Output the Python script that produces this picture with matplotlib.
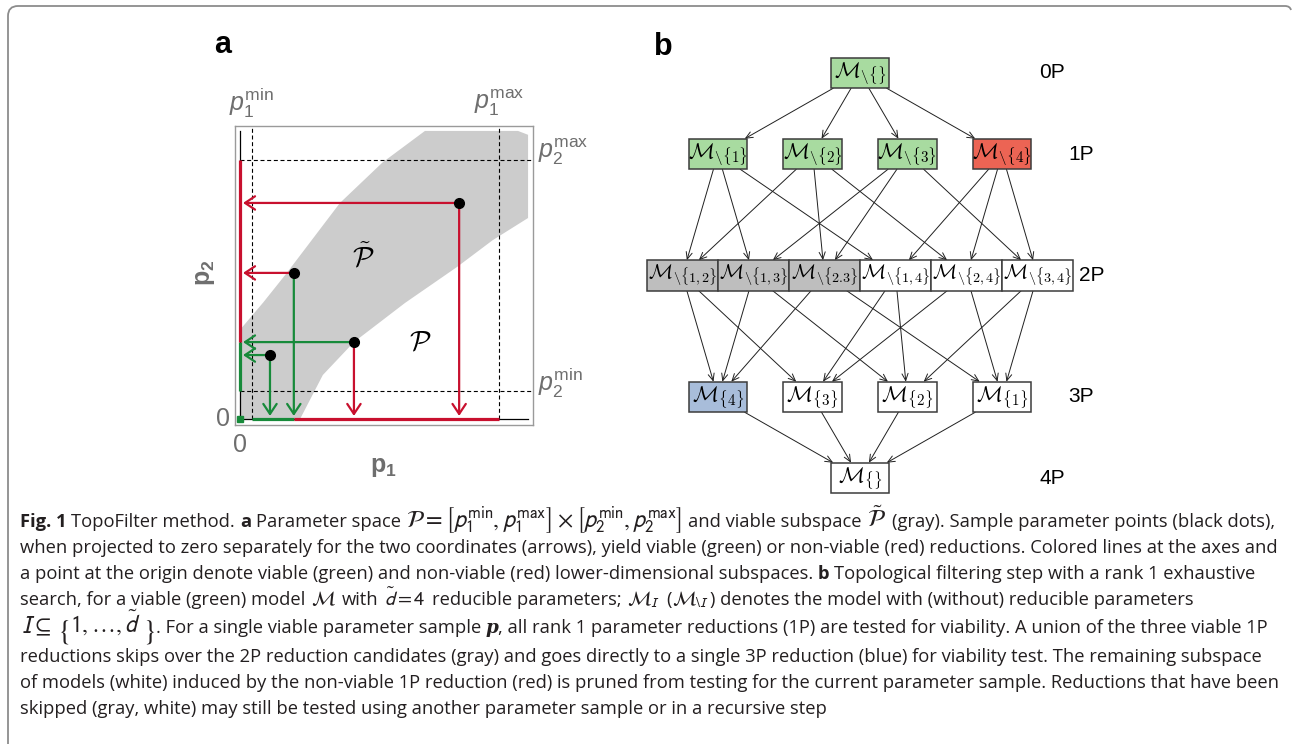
import re

import matplotlib
matplotlib.use("Agg")
import matplotlib.pyplot as plt
import numpy as np
from matplotlib.patches import Polygon, Rectangle, PathPatch
from matplotlib.path import Path

plt.rcParams["font.family"] = ["Liberation Sans", "DejaVu Sans"]
plt.rcParams["mathtext.fontset"] = "custom"
plt.rcParams["mathtext.rm"] = "Liberation Sans"
plt.rcParams["mathtext.it"] = "Liberation Sans:italic"
plt.rcParams["mathtext.bf"] = "Liberation Sans:bold"

W, H, DPI = 1292, 744, 100

# ---- panel a: parameter space (units of p_max) ----
p1_min, p1_max = 0.046, 1.0
p2_min, p2_max = 0.11, 1.0
viable_p1 = [0.0, 0.0, 0.09, 0.181, 0.386, 0.55, 0.714, 1.073, 1.112, 1.112,
             0.975, 0.838, 0.637, 0.44, 0.32, 0.232]
viable_p2 = [0.0, 0.344, 0.45, 0.564, 0.834, 0.99, 1.112, 1.112, 1.097, 0.776,
             0.69, 0.587, 0.448, 0.297, 0.17, 0.0]
sample_p1 = [0.846, 0.208, 0.44, 0.116]
sample_p2 = [0.834, 0.564, 0.297, 0.247]
ok_p1_zero = [False, False, True, True]   # projection p1 -> 0 (horizontal arrow)
ok_p2_zero = [False, True, False, True]   # projection p2 -> 0 (vertical arrow)

# ---- panel b: reduction lattice ----
level_names = ["0P", "1P", "2P", "3P", "4P"]
removed = [
    [()],
    [(1,), (2,), (3,), (4,)],
    [(1, 2), (1, 3), (2, 3), (1, 4), (2, 4), (3, 4)],
    [(1, 2, 3), (1, 2, 4), (1, 3, 4), (2, 3, 4)],
    [(1, 2, 3, 4)],
]
node_labels = [
    [r"\backslash\{\}"],
    [r"\backslash\{\mathbf{1}\}", r"\backslash\{\mathbf{2}\}", r"\backslash\{\mathbf{3}\}",
     r"\backslash\{\mathbf{4}\}"],
    [r"\backslash\{\mathbf{1,2}\}", r"\backslash\{\mathbf{1,3}\}", r"\backslash\{\mathbf{2.3}\}",
     r"\backslash\{\mathbf{1,4}\}", r"\backslash\{\mathbf{2,4}\}", r"\backslash\{\mathbf{3,4}\}"],
    [r"\{\mathbf{4}\}", r"\{\mathbf{3}\}", r"\{\mathbf{2}\}", r"\{\mathbf{1}\}"],
    [r"\{\}"],
]
node_state = [
    ["viable"],
    ["viable", "viable", "viable", "nonviable"],
    ["skipped", "skipped", "skipped", "pruned", "pruned", "pruned"],
    ["tested", "pruned", "pruned", "pruned"],
    ["pruned"],
]
state_color = {"viable": "#a8dba0", "nonviable": "#ec6454", "skipped": "#bebebe",
               "tested": "#a8bdda", "pruned": "#ffffff"}

# layout of the lattice
row_y = [0, 1, 2.5, 4, 5]
slot_step = [1.0, 1.0, 0.75, 1.0, 1.0]
box_w = [0.62, 0.62, 0.75, 0.62, 0.62]
box_h = 0.377
label_x = [2.03, 2.34, 2.45, 2.34, 2.03]
label_size = [15.5, 15.5, 14.5, 15.5, 15.5]

RED = "#c8102e"
GREEN = "#178a3a"
GREY_TXT = "#6e6e6e"


def px_rect(x0, y0, x1, y1):
    return [x0 / W, 1 - y1 / H, (x1 - x0) / W, (y1 - y0) / H]


fig = plt.figure(figsize=(W / DPI, H / DPI), dpi=DPI)
fig.patch.set_facecolor("white")

canvas = fig.add_axes([0, 0, 1, 1], zorder=0)
canvas.set_xlim(0, W)
canvas.set_ylim(H, 0)
canvas.axis("off")

# outer frame with rounded corner
frame = Path([(8, H), (8, 16), (8, 6), (18, 6), (1285, 6), (1290, 6), (1291, 10)],
             [Path.MOVETO, Path.LINETO, Path.CURVE3, Path.CURVE3, Path.LINETO,
              Path.CURVE3, Path.CURVE3])
canvas.add_patch(PathPatch(frame, fc="none", ec="#8c8c8c", lw=1.3))

# ================= panel a =================
ax = fig.add_axes(px_rect(235, 126, 533, 425), zorder=1)
ax.set_xlim(-0.019, 1.131)
ax.set_ylim(-0.023, 1.131)
ax.set_xticks([])
ax.set_yticks([])
for sp in ax.spines.values():
    sp.set_color("#9a9a9a")
    sp.set_linewidth(1.0)

ax.add_patch(Polygon(np.column_stack([viable_p1, viable_p2]), closed=True,
                     fc="#cccccc", ec="none", zorder=1))

dash = (0, (3.6, 2.4))
top, right = ax.get_ylim()[1], ax.get_xlim()[1]
for xv in (p1_min, p1_max):
    ax.plot([xv, xv], [0, top], color="black", lw=0.8, ls=dash, zorder=2)
for yv in (p2_min, p2_max):
    ax.plot([0, right], [yv, yv], color="black", lw=0.8, ls=dash, zorder=2)

axis_end = 1.112
ax.plot([0, 0], [0, axis_end], color="black", lw=0.9, zorder=3)
ax.plot([0, axis_end], [0, 0], color="black", lw=0.9, zorder=3)

# lower-dimensional subspaces on the axes
y_green = max(y for y, ok in zip(sample_p2, ok_p1_zero) if ok)
x_green = max(x for x, ok in zip(sample_p1, ok_p2_zero) if ok)
ax.plot([0, 0], [p2_min, y_green], color=GREEN, lw=2.3, zorder=4, solid_capstyle="butt")
ax.plot([0, 0], [y_green, p2_max], color=RED, lw=2.3, zorder=4, solid_capstyle="butt")
ax.plot([p1_min, x_green], [0, 0], color=GREEN, lw=2.3, zorder=4, solid_capstyle="butt")
ax.plot([x_green, p1_max], [0, 0], color=RED, lw=2.3, zorder=4, solid_capstyle="butt")
ax.plot([0], [0], marker="s", ms=4, color=GREEN, zorder=5)

tip = 0.012
astyle = "->,head_length=0.45,head_width=0.3"
for x, y, okx, oky in zip(sample_p1, sample_p2, ok_p1_zero, ok_p2_zero):
    ax.annotate("", xy=(tip, y), xytext=(x, y),
                arrowprops=dict(arrowstyle=astyle, color=GREEN if okx else RED,
                                lw=1.6, mutation_scale=16, shrinkA=0, shrinkB=0),
                zorder=5)
    ax.annotate("", xy=(x, tip), xytext=(x, y),
                arrowprops=dict(arrowstyle=astyle, color=GREEN if oky else RED,
                                lw=1.6, mutation_scale=16, shrinkA=0, shrinkB=0),
                zorder=5)
ax.plot(sample_p1, sample_p2, "o", color="black", ms=7, zorder=6)

lab = dict(color=GREY_TXT, fontsize=18, clip_on=False)
ax.text(p1_min, 1.22, r"$p_1^{\mathrm{min}}$", ha="center", va="center", **lab)
ax.text(p1_max, 1.22, r"$p_1^{\mathrm{max}}$", ha="center", va="center", **lab)
ax.text(1.15, p2_max + 0.03, r"$p_2^{\mathrm{max}}$", ha="left", va="center", **lab)
ax.text(1.15, p2_min + 0.03, r"$p_2^{\mathrm{min}}$", ha="left", va="center", **lab)
ax.text(-0.066, 0, "0", ha="center", va="center", **lab)
ax.text(0, -0.1, "0", ha="center", va="center", **lab)
ax.text(0.552, -0.185, r"$\mathbf{p}_\mathbf{1}$", ha="center", va="center", **lab)
ax.text(-0.135, 0.564, r"$\mathbf{p}_\mathbf{2}$", ha="center", va="center",
        rotation=90, **lab)
ax.text(0.475, 0.622, r"$\tilde{\mathcal{P}}$", ha="center", va="center",
        fontsize=20, math_fontfamily="cm", zorder=7)
ax.text(0.695, 0.297, r"$\mathcal{P}$", ha="center", va="center",
        fontsize=20, math_fontfamily="cm", zorder=7)

canvas.text(223, 45, "a", ha="center", va="center", fontsize=22, fontweight="bold")
canvas.text(663, 47, "b", ha="center", va="center", fontsize=22, fontweight="bold")

# ================= panel b =================
bx = fig.add_axes(px_rect(632.7, 32.5, 1125.1, 518.5), zorder=1)
bx.set_xlim(-2.4, 2.8)
bx.set_ylim(5.5, -0.5)
bx.axis("off")

centers = []
for k, row in enumerate(removed):
    n = len(row)
    xs = [(i - (n - 1) / 2) * slot_step[k] for i in range(n)]
    centers.append(xs)
    for i, x in enumerate(xs):
        bx.add_patch(Rectangle((x - box_w[k] / 2, row_y[k] - box_h / 2), box_w[k], box_h,
                               fc=state_color[node_state[k][i]], ec="#3c3c3c", lw=1.1,
                               zorder=3))
        bx.text(x, row_y[k], r"$\mathcal{M}_{" + node_labels[k][i] + "}$",
                ha="center", va="center", fontsize=label_size[k], math_fontfamily="cm",
                zorder=4)
    bx.text(label_x[k], row_y[k], level_names[k], ha="center", va="center", fontsize=15)

hh = box_h / 2
for k in range(len(removed) - 1):
    dy = row_y[k + 1] - row_y[k]
    for i, s in enumerate(removed[k]):
        for j, t in enumerate(removed[k + 1]):
            if not set(s) <= set(t):
                continue
            xs_, xt_ = centers[k][i], centers[k + 1][j]
            dx = xt_ - xs_
            start = (xs_ + dx * hh / dy, row_y[k] + hh)
            end = (xt_ - dx * hh / dy, row_y[k + 1] - hh)
            bx.annotate("", xy=end, xytext=start,
                        arrowprops=dict(arrowstyle="->,head_length=0.5,head_width=0.22",
                                        color="#202020", lw=0.7, mutation_scale=10,
                                        shrinkA=0, shrinkB=0), zorder=2)

# ================= caption =================
renderer = fig.canvas.get_renderer()
CAP_FONT = ["Open Sans", "DejaVu Sans"]
R = dict()
RM = dict(mscale=1.3)          # larger formulas
B = dict(fontweight="bold")
BI = dict(family=["DejaVu Serif"], fontweight="bold", fontstyle="italic")
BIG = dict(mscale=1.6, dy=5, pad=0)

caption = [
    [("Fig. 1", B), (" TopoFilter method. ", R), ("a", B),
     (r" Parameter space $\mathcal{P} = \left[p_1^{\mathrm{min}}, p_1^{\mathrm{max}}\right]"
      r" \times \left[p_2^{\mathrm{min}}, p_2^{\mathrm{max}}\right]$ and viable subspace"
      r" $\tilde{\mathcal{P}}$ (gray). Sample parameter points (black dots),", RM)],
    [("when projected to zero separately for the two coordinates (arrows), yield viable "
      "(green) or non-viable (red) reductions. Colored lines at the axes and", R)],
    [("a point at the origin denote viable (green) and non-viable (red) lower-dimensional "
      "subspaces. ", R), ("b", B),
     (" Topological filtering step with a rank 1 exhaustive", R)],
    [(r"search, for a viable (green) model $\mathcal{M}$ with $\tilde{d} = 4$ reducible "
      r"parameters; $\mathcal{M}_I$ ($\mathcal{M}_{\backslash I}$) denotes the model with "
      r"(without) reducible parameters", R)],
    [(r"$I \subseteq$ ", RM), (r"$\{$", BIG), (r"$1,\ldots,\tilde{d}$", RM), (r"$\}$", BIG),
     (". For a single viable parameter sample ", R),
     ("p", BI),
     (", all rank 1 parameter reductions (1P) are tested for viability. A union of the "
      "three viable 1P", R)],
    [("reductions skips over the 2P reduction candidates (gray) and goes directly to a "
      "single 3P reduction (blue) for viability test. The remaining subspace", R)],
    [("of models (white) induced by the non-viable 1P reduction (red) is pruned from "
      "testing for the current parameter sample. Reductions that have been", R)],
    [("skipped (gray, white) may still be tested using another parameter sample or in a "
      "recursive step", R)],
]
cap_base = [527, 553, 579, 605, 633, 662, 688, 714]
cap_x0, cap_right = 20, 1278


def text_width(s, size, style):
    kw = dict(family=CAP_FONT, math_fontfamily="stixsans")
    kw.update(style)
    t = canvas.text(0, 0, s, fontsize=size, **kw)
    w = t.get_window_extent(renderer).width
    t.remove()
    return w


def advance(s, size, style):
    # pen advance of plain text, bracketed by bars so side bearings and spaces count
    return text_width("|" + s + "|", size, style) - text_width("||", size, style)


cap_size = 10 * (cap_right - cap_x0) / advance(caption[1][0][0], 10, R)

for line, yb in zip(caption, cap_base):
    x = cap_x0
    for s, style in line:
        style = dict(style)
        mscale = style.pop("mscale", 1.1)
        shift = style.pop("dy", 0)
        pad = style.pop("pad", 1)
        for part in re.split(r"(\$[^$]*\$)", s):
            if not part:
                continue
            is_math = part.startswith("$")
            kw = dict(family=CAP_FONT, math_fontfamily="stixsans", color="#231f20")
            kw.update(style)
            if is_math:
                t = canvas.text(x + pad, yb + shift, part, fontsize=cap_size * mscale,
                                ha="left", va="baseline", **kw)
                x += t.get_window_extent(renderer).width + 2 * pad
                continue
            body = part.strip()
            lead = part[: len(part) - len(part.lstrip())]
            if body:
                x_draw = x + (advance(lead, cap_size, style) if lead else 0)
                canvas.text(x_draw, yb, body, fontsize=cap_size, ha="left",
                            va="baseline", **kw)
            x += advance(part, cap_size, style)

fig.savefig("out.png", dpi=DPI, facecolor="white")
